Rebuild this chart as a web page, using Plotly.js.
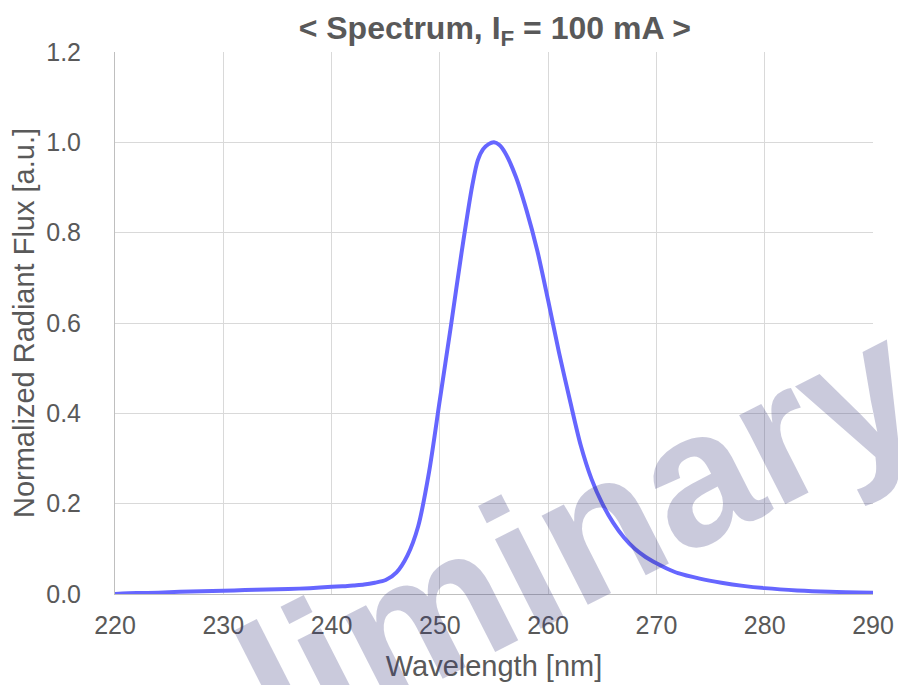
<!DOCTYPE html>
<html>
<head>
<meta charset="utf-8">
<script src="https://cdn.plot.ly/plotly-3.0.1.min.js"></script>
<style>html,body{margin:0;padding:0;background:#fff;}#chart{width:898px;height:685px;}</style>
</head>
<body>
<div id="chart"></div>
<script>
var wavelength = [220,222,224,226,228,230,232,234,236,238,240,241,242,243,244,245,246,247,248,249,250,251,252,253,253.5,254,254.5,255,255.5,256,257,258,259,260,261,262,263,264,265,266,267,268,269,270,271,272,274,276,278,280,283,286,290];
var flux = [0.000,0.002,0.003,0.005,0.006,0.007,0.009,0.010,0.011,0.013,0.016,0.017,0.019,0.021,0.025,0.031,0.048,0.085,0.150,0.270,0.430,0.590,0.755,0.905,0.960,0.985,0.996,1.000,0.994,0.978,0.925,0.850,0.760,0.650,0.535,0.430,0.330,0.255,0.200,0.158,0.125,0.100,0.082,0.068,0.056,0.046,0.034,0.025,0.018,0.013,0.008,0.005,0.003];
var xTicks = [220,230,240,250,260,270,280,290];
var yTicks = [0,0.2,0.4,0.6,0.8,1.0,1.2];
var titleText = '< Spectrum, I<sub>F</sub> = 100 mA >';
var xTitle = 'Wavelength [nm]';
var yTitle = 'Normalized Radiant Flux [a.u.]';
var watermark = 'Preliminary';

var font = 'Liberation Sans, Arial, sans-serif';
var trace = {
  x: wavelength, y: flux, type: 'scatter', mode: 'lines',
  line: {color: 'rgb(102,102,255)', width: 4, shape: 'spline', smoothing: 0.8},
  hoverinfo: 'skip'
};
var layout = {
  width: 898, height: 685,
  margin: {l: 115, r: 25, t: 52, b: 91, pad: 0},
  paper_bgcolor: '#fff', plot_bgcolor: '#fff',
  showlegend: false,
  font: {family: font, color: '#595959', size: 25},
  title: {text: titleText, font: {family: font, size: 32, color: '#595959', weight: 'bold'},
          x: 0.551, xanchor: 'center', y: 1 - 28/685, yanchor: 'middle'},
  xaxis: {
    range: [220, 290], tickvals: xTicks, ticktext: xTicks.map(String),
    showgrid: true, gridcolor: '#d9d9d9', gridwidth: 1,
    showline: true, linecolor: '#bfbfbf', linewidth: 1, mirror: false,
    zeroline: false, ticks: '', ticklabelstandoff: 9,
    tickfont: {family: font, size: 25, color: '#595959'},
    title: {text: xTitle, font: {family: font, size: 29, color: '#595959'}, standoff: 17}
  },
  yaxis: {
    range: [0, 1.2], tickvals: yTicks, ticktext: yTicks.map(function(v){return v.toFixed(1);}),
    showgrid: true, gridcolor: '#d9d9d9', gridwidth: 1,
    showline: true, linecolor: '#bfbfbf', linewidth: 1,
    zeroline: false, ticks: '', ticklabelstandoff: 28,
    tickfont: {family: font, size: 25, color: '#595959'},
    title: {text: yTitle, font: {family: font, size: 29, color: '#595959'}, standoff: 3}
  },
  annotations: [{
    text: watermark, xref: 'paper', yref: 'paper', x: 0.4314, y: -0.0203,
    xanchor: 'center', yanchor: 'middle', showarrow: false, textangle: -27,
    font: {family: font, size: 190, color: 'rgba(50,50,120,0.26)', weight: 'bold'}
  }]
};
Plotly.newPlot('chart', [trace], layout, {staticPlot: true, displayModeBar: false});
</script>
</body>
</html>
